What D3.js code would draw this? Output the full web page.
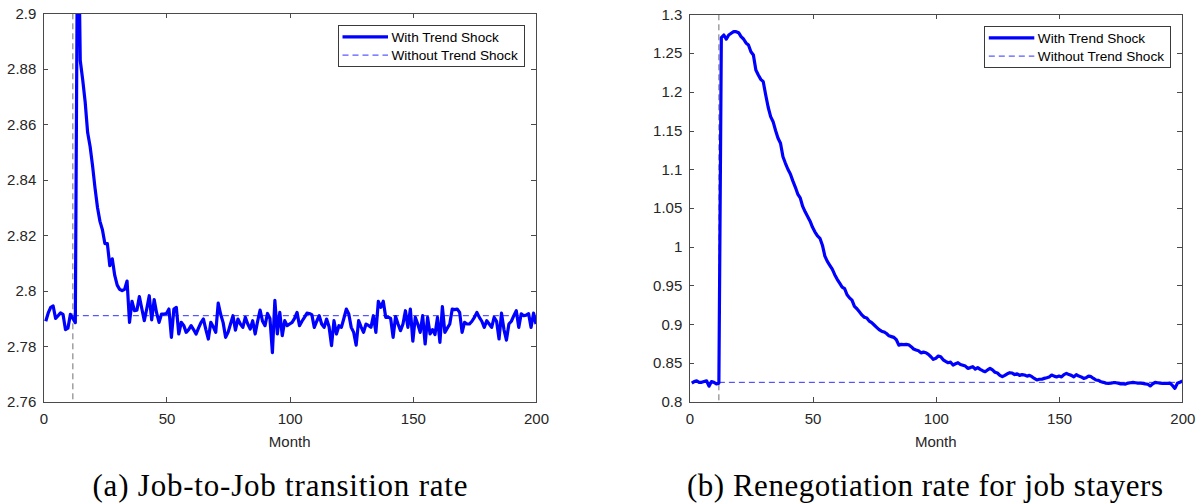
<!DOCTYPE html>
<html>
<head>
<meta charset="utf-8">
<script src="https://cdn.jsdelivr.net/npm/d3@7/dist/d3.min.js"></script>
<style>
  html, body { margin: 0; padding: 0; background: #fff; }
  svg { display: block; }
  .tick text { font-family: "Liberation Sans", Arial, sans-serif; font-size: 15px; fill: #262626; }
  .axis path, .axis line { stroke: #4a4a4a; shape-rendering: crispEdges; }
</style>
</head>
<body>
<svg id="chart" width="1200" height="503"></svg>
<script>
// ---- data ----
const seriesNames = ['With Trend Shock', 'Without Trend Shock'];
const shockMonth = 12;

// (a) job-to-job transition rate, months 1..200
const jjRate = [
  2.789, 2.792, 2.794, 2.7945, 2.790, 2.791, 2.792, 2.7915, 2.786, 2.7865,
  2.7915, 2.790, 2.7885, 2.950, 2.883, 2.876, 2.868, 2.857, 2.852, 2.845,
  2.837, 2.830, 2.825, 2.822, 2.817, 2.817, 2.809, 2.8115, 2.8055, 2.802,
  2.8005, 2.800, 2.8005, 2.8035, 2.7886, 2.7962, 2.7928, 2.793, 2.7979, 2.7935,
  2.7892, 2.7935, 2.7982, 2.7895, 2.7968, 2.792, 2.7886, 2.7916, 2.7916, 2.7918,
  2.7934, 2.7832, 2.7934, 2.794, 2.7844, 2.7886, 2.7875, 2.785, 2.786, 2.7874,
  2.786, 2.7844, 2.7865, 2.7885, 2.7898, 2.786, 2.7826, 2.7886, 2.787, 2.785,
  2.7955, 2.7915, 2.7885, 2.7832, 2.785, 2.788, 2.791, 2.7858, 2.7898, 2.788,
  2.7868, 2.7904, 2.788, 2.7862, 2.7892, 2.7844, 2.789, 2.793, 2.789, 2.7874,
  2.7918, 2.790, 2.7777, 2.7965, 2.7844, 2.7922, 2.7838, 2.7892, 2.7874, 2.788,
  2.7886, 2.790, 2.7922, 2.7874, 2.789, 2.7904, 2.7919, 2.7918, 2.7914, 2.7868,
  2.789, 2.791, 2.788, 2.7868, 2.7898, 2.787, 2.7802, 2.7892, 2.7844, 2.7874,
  2.7868, 2.790, 2.7934, 2.7916, 2.7868, 2.785, 2.7804, 2.7892, 2.787, 2.785,
  2.788, 2.7875, 2.7868, 2.791, 2.785, 2.7962, 2.794, 2.7962, 2.7904, 2.7905,
  2.790, 2.7832, 2.7907, 2.788, 2.7856, 2.788, 2.7928, 2.7868, 2.7934, 2.7818,
  2.7904, 2.788, 2.785, 2.791, 2.7808, 2.7904, 2.7844, 2.786, 2.7842, 2.7904,
  2.7814, 2.7943, 2.785, 2.7865, 2.788, 2.7934, 2.7932, 2.7934, 2.7922, 2.785,
  2.7886, 2.788, 2.788, 2.789, 2.7904, 2.7922, 2.7904, 2.789, 2.7868, 2.7892,
  2.788, 2.7868, 2.7904, 2.789, 2.7826, 2.7919, 2.786, 2.7822, 2.788, 2.789,
  2.791, 2.7928, 2.7868, 2.7917, 2.791, 2.7912, 2.7917, 2.7868, 2.7919, 2.788
];
const jjBaseline = 2.791;

// (b) renegotiation rate for job stayers, months 1..200
const renegRate = [
  0.824, 0.826, 0.827, 0.825, 0.825, 0.826, 0.827, 0.820, 0.826, 0.825,
  0.823, 0.824, 1.270, 1.2733, 1.268, 1.2733, 1.2755, 1.2776, 1.2776, 1.2763,
  1.2711, 1.2681, 1.263, 1.2604, 1.2517, 1.2474, 1.2281, 1.2217, 1.216, 1.213,
  1.1958, 1.180, 1.168, 1.1614, 1.150, 1.140, 1.1335, 1.1162, 1.1077, 1.100,
  1.094, 1.085, 1.077, 1.068, 1.063, 1.052, 1.045, 1.039, 1.033, 1.025,
  1.019, 1.014, 1.0109, 1.002, 0.988, 0.981, 0.976, 0.971, 0.964, 0.958,
  0.953, 0.948, 0.946, 0.938, 0.934, 0.931, 0.923, 0.920, 0.916, 0.912,
  0.909, 0.908, 0.904, 0.902, 0.899, 0.896, 0.893, 0.891, 0.890, 0.888,
  0.885, 0.884, 0.883, 0.880, 0.873, 0.874, 0.8736, 0.874, 0.8735, 0.871,
  0.868, 0.8667, 0.8658, 0.863, 0.864, 0.8632, 0.861, 0.858, 0.8546, 0.856,
  0.859, 0.858, 0.854, 0.852, 0.8503, 0.851, 0.8473, 0.849, 0.8503, 0.848,
  0.847, 0.846, 0.843, 0.844, 0.8452, 0.842, 0.844, 0.8417, 0.840, 0.8387,
  0.841, 0.843, 0.841, 0.838, 0.837, 0.834, 0.8323, 0.834, 0.836, 0.8374,
  0.837, 0.835, 0.836, 0.834, 0.835, 0.8344, 0.833, 0.834, 0.8323, 0.830,
  0.828, 0.829, 0.829, 0.8301, 0.831, 0.832, 0.8344, 0.833, 0.832, 0.8331,
  0.832, 0.835, 0.8366, 0.835, 0.834, 0.832, 0.835, 0.8331, 0.832, 0.8301,
  0.831, 0.833, 0.8323, 0.830, 0.828, 0.8275, 0.8258, 0.825, 0.824, 0.8237,
  0.824, 0.8245, 0.8245, 0.824, 0.823, 0.823, 0.8228, 0.824, 0.8245, 0.825,
  0.8245, 0.824, 0.824, 0.8237, 0.823, 0.8225, 0.8203, 0.823, 0.825, 0.8245,
  0.824, 0.8235, 0.8237, 0.8237, 0.824, 0.821, 0.8172, 0.8237, 0.825, 0.8267
];
const renegBaseline = 0.825;

const xTicks = [0, 50, 100, 150, 200];
const jjTicks = [2.76, 2.78, 2.8, 2.82, 2.84, 2.86, 2.88, 2.9];
const renegTicks = [0.8, 0.85, 0.9, 0.95, 1, 1.05, 1.1, 1.15, 1.2, 1.25, 1.3];

const captions = ['(a) Job-to-Job transition rate', '(b) Renegotiation rate for job stayers'];

// ---- drawing ----
const svg = d3.select('#chart');
const fmt = d => String(+d.toFixed(2));

function drawPanel(opts) {
  const { id, left, right, top, bottom, values, baseline, yDomain, yTicks, caption, capX, capW } = opts;
  const x = d3.scaleLinear().domain([0, 200]).range([left, right]);
  const y = d3.scaleLinear().domain(yDomain).range([bottom, top]);
  const g = svg.append('g');

  g.append('clipPath').attr('id', 'clip-' + id)
    .append('rect')
    .attr('x', left).attr('y', top)
    .attr('width', right - left).attr('height', bottom - top);

  const plot = g.append('g').attr('clip-path', `url(#clip-${id})`);

  // shock marker
  plot.append('line')
    .attr('x1', x(shockMonth)).attr('x2', x(shockMonth))
    .attr('y1', top).attr('y2', bottom)
    .attr('stroke', '#6f6f6f').attr('stroke-width', 1)
    .attr('stroke-dasharray', '6,4');

  // counterfactual (no trend shock)
  plot.append('line')
    .attr('x1', x(shockMonth)).attr('x2', x(200))
    .attr('y1', y(baseline)).attr('y2', y(baseline))
    .attr('stroke', '#2f2fff').attr('stroke-width', 1)
    .attr('stroke-dasharray', '6,4');

  const line = d3.line()
    .x((d, i) => x(i + 1))
    .y(d => y(d));

  plot.append('path')
    .datum(values)
    .attr('d', line)
    .attr('fill', 'none')
    .attr('stroke', '#0000ff')
    .attr('stroke-width', 3.2)
    .attr('stroke-linejoin', 'round');

  // axes (MATLAB box with inward ticks)
  g.append('g').attr('class', 'axis')
    .attr('transform', `translate(0,${bottom})`)
    .call(d3.axisBottom(x).tickValues(xTicks).tickFormat(d3.format('d'))
      .tickSizeInner(-5).tickSizeOuter(0).tickPadding(12));
  g.append('g').attr('class', 'axis')
    .attr('transform', `translate(0,${top})`)
    .call(d3.axisTop(x).tickValues(xTicks).tickFormat('')
      .tickSizeInner(-5).tickSizeOuter(0));
  g.append('g').attr('class', 'axis')
    .attr('transform', `translate(${left},0)`)
    .call(d3.axisLeft(y).tickValues(yTicks).tickFormat(fmt)
      .tickSizeInner(-5).tickSizeOuter(0).tickPadding(7));
  g.append('g').attr('class', 'axis')
    .attr('transform', `translate(${right},0)`)
    .call(d3.axisRight(y).tickValues(yTicks).tickFormat('')
      .tickSizeInner(-5).tickSizeOuter(0));

  // x label
  g.append('text')
    .attr('x', (left + right) / 2).attr('y', 446.5)
    .attr('text-anchor', 'middle')
    .attr('font-family', '"Liberation Sans", Arial, sans-serif')
    .attr('font-size', 15).attr('fill', '#262626')
    .text('Month');

  // legend
  const lx = right - 198, ly = top + 12.5, lw = 186, lh = 40.5;
  const leg = g.append('g');
  leg.append('rect')
    .attr('x', lx).attr('y', ly).attr('width', lw).attr('height', lh)
    .attr('fill', '#fff').attr('stroke', '#3a3a3a').attr('stroke-width', 1)
    .attr('shape-rendering', 'crispEdges');
  const rows = [
    { name: seriesNames[0], w: 3.2, dash: null, color: '#0000ff' },
    { name: seriesNames[1], w: 1, dash: '6,4', color: '#2f2fff' }
  ];
  rows.forEach((r, i) => {
    const yy = ly + 11 + i * 18.3;
    leg.append('line')
      .attr('x1', lx + 4.5).attr('x2', lx + 50)
      .attr('y1', yy).attr('y2', yy)
      .attr('stroke', r.color).attr('stroke-width', r.w)
      .attr('stroke-dasharray', r.dash);
    leg.append('text')
      .attr('x', lx + 53.5).attr('y', yy + 4.8)
      .attr('font-family', '"Liberation Sans", Arial, sans-serif')
      .attr('font-size', 13.6).attr('fill', '#000')
      .text(r.name);
  });

  // sub-figure caption
  g.append('text')
    .attr('x', capX).attr('y', 496)
    .attr('text-anchor', 'middle')
    .attr('font-family', '"Liberation Serif", "Times New Roman", serif')
    .attr('font-size', 31).attr('fill', '#000')
    .attr('textLength', capW).attr('lengthAdjust', 'spacing')
    .text(caption);
}

drawPanel({
  id: 'a', left: 43.3, right: 536, top: 13.3, bottom: 401.7,
  values: jjRate, baseline: jjBaseline, yDomain: [2.76, 2.9], yTicks: jjTicks,
  caption: captions[0], capX: 280, capW: 375
});

drawPanel({
  id: 'b', left: 689.3, right: 1182.3, top: 14.3, bottom: 401.7,
  values: renegRate, baseline: renegBaseline, yDomain: [0.8, 1.3], yTicks: renegTicks,
  caption: captions[1], capX: 925, capW: 476
});
</script>
</body>
</html>
